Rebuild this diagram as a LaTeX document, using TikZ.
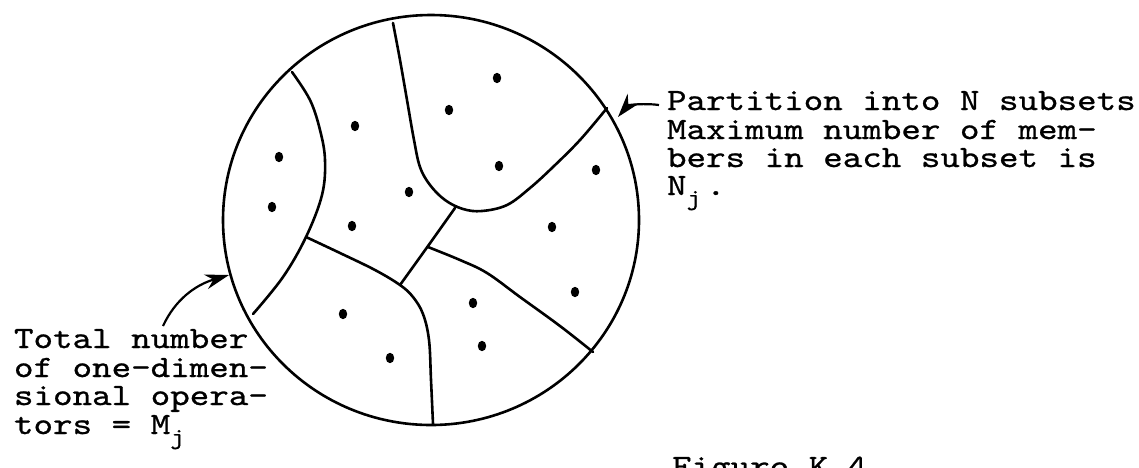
\documentclass[tikz,border=0pt]{standalone}
\usepackage{fontspec}
\usetikzlibrary{arrows.meta}
\newfontfamily\twfont{lmmono10-regular.otf}[FakeBold=0.8, FakeStretch=1.2]
\newcommand{\tw}[1]{{\twfont\fontsize{31}{29}\selectfont #1}}
\newcommand{\sbj}{\rlap{\raisebox{-10pt}{\fontsize{23}{23}\selectfont j}}\phantom{x}}
\tikzset{
  pen/.style={line width=2.6pt, line cap=round, line join=round},
  part/.style={pen, smooth, tension=0.6},
  dot/.style={fill=black},
  txt/.style={anchor=base west, inner sep=0pt, outer sep=0pt},
  arr/.style={line width=2.2pt, -{Stealth[length=24pt,width=15pt]}}
}
\begin{document}
\begin{tikzpicture}[x=1pt,y=1pt]
\useasboundingbox (0,0) rectangle (1139,-467);
% outer circle
\draw[pen] (431,-220) ellipse [x radius=208, y radius=205];
% partition lines
\draw[part] plot coordinates {(292,-72) (310,-100) (320,-130) (325,-160) (322,-195) (306,-237) (283,-277) (253,-314)};
\draw[part] plot coordinates {(306,-237) (340,-253) (375,-270) (400,-285) (413,-297) (423,-314) (429,-340) (431,-380) (433,-424)};
\draw[part] plot coordinates {(400,-285) (428,-246) (455,-208)};
\draw[part] plot coordinates {(393,-23) (400,-60) (407,-100) (414,-140) (420,-167) (430,-185) (445,-200) (463,-209) (482,-211) (507,-205) (530,-188) (553,-167) (580,-140) (607,-108)};
\draw[part] plot coordinates {(428,-247) (460,-260) (487,-273) (520,-297) (560,-326) (593,-352)};
% members
\foreach \p in {(497,-78),(449,-110),(499,-166),(596,-170),(552,-227),(575,-292),(473,-303),(482,-346),(343,-314),(390,-358),(355,-126),(409,-192),(352,-226),(279,-157),(272,-207)}
  \fill[dot] \p ellipse [x radius=4.2, y radius=5.2];
% right text
\node[txt] (r1) at (667,-110) {\tw{Partition into N subsets}};
\node[txt] (r2) at (667,-139) {\tw{Maximum number of mem-}};
\node[txt] (r3) at (667,-167) {\tw{bers in each subset is}};
\node[txt] (r4) at (667,-195) {\tw{N\sbj.}};
% left text
\node[txt] (l1) at (14,-348) {\tw{Total number}};
\node[txt] (l2) at (14,-377) {\tw{of one-dimen-}};
\node[txt] (l3) at (14,-405) {\tw{sional opera-}};
\node[txt] (l4) at (14,-434) {\tw{tors = M\sbj}};
% caption (cut by the page edge, as in the source)
\node[txt] (cap) at (672,-476) {\tw{Figure K.4}};
% arrows
\coordinate (rt) at (618,-117);
\coordinate (rs) at (659,-105);
\coordinate (lt) at (229,-275);
\coordinate (ls) at (163,-326);
\draw[arr] (rs) .. controls (645,-103) and (628,-105) .. (rt);
\draw[arr] (ls) .. controls (175,-300) and (195,-285) .. (lt);
\end{tikzpicture}
\end{document}
